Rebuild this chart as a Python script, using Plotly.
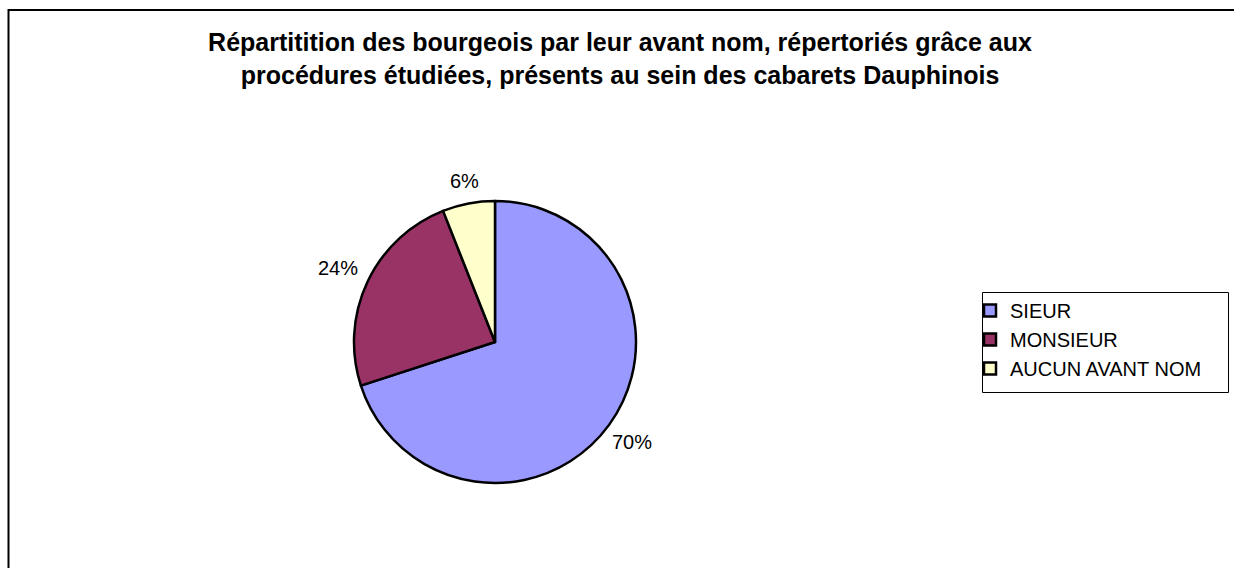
import math
import plotly.graph_objects as go

categories = ["SIEUR", "MONSIEUR", "AUCUN AVANT NOM"]
values = [70, 24, 6]
colors = ["#9999FF", "#993366", "#FFFFCC"]

W, H = 1234, 568
cx, cy, r = 495, 342, 141
label_gap = 15
FONT = "Liberation Sans, Arial"

fig = go.Figure(go.Pie(
    labels=categories,
    values=values,
    sort=False,
    direction="clockwise",
    rotation=0,
    marker=dict(colors=colors, line=dict(color="black", width=2.5)),
    textinfo="none",
    hoverinfo="label+percent",
    domain=dict(x=[(cx - r) / W, (cx + r) / W], y=[(H - cy - r) / H, (H - cy + r) / H]),
))

# percentage labels placed outside each slice at its mid-angle
total = sum(values)
annotations = []
cum = 0
for v in values:
    txt = f"{round(100 * v / total)}%"
    mid = cum + v / 2
    ang = math.radians(90 - 360 * mid / total)
    c, s = math.cos(ang), math.sin(ang)
    hw, hh = len(txt) * 10.5 / 2, 8
    ext = min(hw / max(abs(c), 1e-6), hh / max(abs(s), 1e-6))
    R = r + label_gap + ext
    px = cx + R * c
    py = cy - R * s
    annotations.append(dict(
        x=px / W, y=1 - py / H, xref="paper", yref="paper",
        text=txt, showarrow=False,
        xanchor="center", yanchor="middle",
        font=dict(family=FONT, size=20, color="black"),
    ))
    cum += v

fig.update_layout(
    width=W, height=H,
    margin=dict(l=0, r=0, t=0, b=0, autoexpand=False),
    paper_bgcolor="white",
    plot_bgcolor="white",
    font=dict(family=FONT, size=20, color="black"),
    title=dict(
        text="<b>Répartitition des bourgeois par leur avant nom, répertoriés grâce aux<br>procédures étudiées, présents au sein des cabarets Dauphinois</b>",
        x=620 / W, xanchor="center",
        y=1 - 51 / H, yanchor="top",
        font=dict(family=FONT, size=25, color="black"),
    ),
    legend=dict(
        x=970 / W, xanchor="left",
        y=1 - 291 / H, yanchor="top",
        borderwidth=0,
        bgcolor="rgba(0,0,0,0)",
        itemwidth=30,
        font=dict(family=FONT, size=20, color="black"),
        tracegroupgap=0,
    ),
    showlegend=True,
    annotations=annotations,
    shapes=[
        dict(type="rect", xref="paper", yref="paper",
             x0=8.5 / W, x1=1.02, y0=-0.02, y1=1 - 10 / H,
             line=dict(color="black", width=2)),
        dict(type="rect", xref="paper", yref="paper",
             x0=982.5 / W, x1=1228.5 / W, y0=1 - 392.5 / H, y1=1 - 292.5 / H,
             line=dict(color="black", width=1)),
    ],
)

fig.write_html(
    "out.html",
    config={"displayModeBar": False},
    post_script="document.body.style.margin='0';document.body.style.overflow='hidden';",
)
